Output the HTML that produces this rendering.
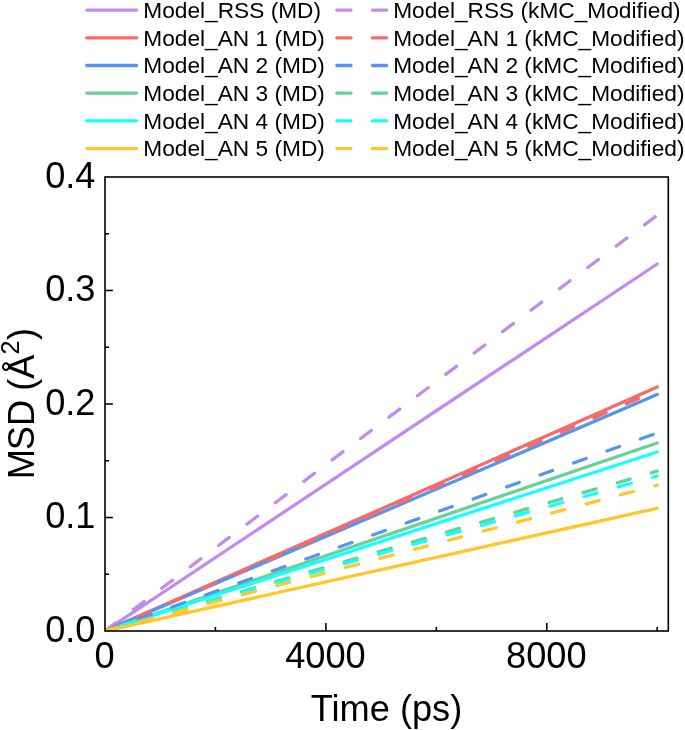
<!DOCTYPE html>
<html><head><meta charset="utf-8"><title>MSD</title>
<style>
html,body{margin:0;padding:0;background:#fff;}
body{width:685px;height:730px;overflow:hidden;}
svg{display:block;will-change:transform;}
text{font-family:"Liberation Sans",sans-serif;fill:#000;}
</style></head><body>
<svg width="685" height="730" viewBox="0 0 685 730">
<rect x="0" y="0" width="685" height="730" fill="#fff"/>

<clipPath id="pc"><rect x="105.0" y="177.0" width="563.3" height="454.0"/></clipPath>
<g clip-path="url(#pc)" fill="none" stroke-linecap="round" stroke-width="3.3">
<line x1="105.0" y1="631.0" x2="657.2" y2="264.0" stroke="#C28DE8"/>
<line x1="105.0" y1="631.0" x2="657.2" y2="387.0" stroke="#F56A6A"/>
<line x1="105.0" y1="631.0" x2="657.2" y2="394.5" stroke="#5595EE"/>
<line x1="105.0" y1="631.0" x2="657.2" y2="443.0" stroke="#66D298"/>
<line x1="105.0" y1="631.0" x2="657.2" y2="452.0" stroke="#14FFFF"/>
<line x1="105.0" y1="631.0" x2="657.2" y2="508.3" stroke="#FFC72C"/>
<line x1="105.0" y1="631.0" x2="657.2" y2="215.2" stroke="#C28DE8" stroke-dasharray="13.4 22.15"/>
<line x1="105.0" y1="631.0" x2="657.2" y2="390.3" stroke="#F56A6A" stroke-dasharray="13.4 22.15"/>
<line x1="105.0" y1="631.0" x2="657.2" y2="433.0" stroke="#5595EE" stroke-dasharray="13.4 22.15"/>
<line x1="105.0" y1="631.0" x2="657.2" y2="471.2" stroke="#66D298" stroke-dasharray="13.4 22.15"/>
<line x1="105.0" y1="631.0" x2="657.2" y2="476.0" stroke="#14FFFF" stroke-dasharray="13.4 22.15"/>
<line x1="105.0" y1="631.0" x2="657.2" y2="485.2" stroke="#FFC72C" stroke-dasharray="13.4 22.15"/>
</g>
<rect x="105.0" y="177.0" width="563.3" height="454.0" fill="none" stroke="#000" stroke-width="1.6"/>
<g stroke="#000" stroke-width="1.55">
<line x1="105.0" y1="517.5" x2="112.9" y2="517.5"/>
<line x1="105.0" y1="404.0" x2="112.9" y2="404.0"/>
<line x1="105.0" y1="290.5" x2="112.9" y2="290.5"/>
<line x1="105.0" y1="574.2" x2="109.0" y2="574.2"/>
<line x1="105.0" y1="460.8" x2="109.0" y2="460.8"/>
<line x1="105.0" y1="347.2" x2="109.0" y2="347.2"/>
<line x1="105.0" y1="233.8" x2="109.0" y2="233.8"/>
<line x1="325.9" y1="631.0" x2="325.9" y2="623.1"/>
<line x1="546.8" y1="631.0" x2="546.8" y2="623.1"/>
<line x1="215.4" y1="631.0" x2="215.4" y2="627.0"/>
<line x1="436.3" y1="631.0" x2="436.3" y2="627.0"/>
<line x1="657.2" y1="631.0" x2="657.2" y2="627.0"/>
</g>
<g font-size="36.2">
<text x="95.5" y="641.8" text-anchor="end">0.0</text>
<text x="95.5" y="528.3" text-anchor="end">0.1</text>
<text x="95.5" y="414.8" text-anchor="end">0.2</text>
<text x="95.5" y="301.3" text-anchor="end">0.3</text>
<text x="95.5" y="187.8" text-anchor="end">0.4</text>
<text x="104.5" y="668" text-anchor="middle">0</text>
<text x="325.4" y="668" text-anchor="middle">4000</text>
<text x="546.3" y="668" text-anchor="middle">8000</text>
<text x="386.5" y="720.5" text-anchor="middle">Time (ps)</text>
<text transform="translate(34,479.2) rotate(-90)">M<tspan dx="-1.1">S</tspan>D <tspan dx="-1.0">(</tspan><tspan dx="0.1">Å</tspan><tspan font-size="25.2" dy="-15">2</tspan><tspan dy="15" dx="0.5">)</tspan></text>
</g>
<g fill="none" stroke-linecap="round" stroke-width="3.3">
<line x1="86.8" y1="10.1" x2="136.6" y2="10.1" stroke="#C28DE8"/>
<line x1="336.8" y1="10.1" x2="386.6" y2="10.1" stroke="#C28DE8" stroke-dasharray="14.2 21.4"/>
<line x1="86.8" y1="37.8" x2="136.6" y2="37.8" stroke="#F56A6A"/>
<line x1="336.8" y1="37.8" x2="386.6" y2="37.8" stroke="#F56A6A" stroke-dasharray="14.2 21.4"/>
<line x1="86.8" y1="65.5" x2="136.6" y2="65.5" stroke="#5595EE"/>
<line x1="336.8" y1="65.5" x2="386.6" y2="65.5" stroke="#5595EE" stroke-dasharray="14.2 21.4"/>
<line x1="86.8" y1="93.1" x2="136.6" y2="93.1" stroke="#66D298"/>
<line x1="336.8" y1="93.1" x2="386.6" y2="93.1" stroke="#66D298" stroke-dasharray="14.2 21.4"/>
<line x1="86.8" y1="120.8" x2="136.6" y2="120.8" stroke="#14FFFF"/>
<line x1="336.8" y1="120.8" x2="386.6" y2="120.8" stroke="#14FFFF" stroke-dasharray="14.2 21.4"/>
<line x1="86.8" y1="148.6" x2="136.6" y2="148.6" stroke="#FFC72C"/>
<line x1="336.8" y1="148.6" x2="386.6" y2="148.6" stroke="#FFC72C" stroke-dasharray="14.2 21.4"/>
</g>
<g font-size="22.7">
<text x="143.3" y="17.8">Model_RSS (MD)</text>
<text x="393.2" y="17.8">Model_RSS (kMC_Modified)</text>
<text x="143.3" y="45.5">Model_AN 1 (MD)</text>
<text x="393.2" y="45.5">Model_AN 1 (kMC_Modified)</text>
<text x="143.3" y="73.2">Model_AN 2 (MD)</text>
<text x="393.2" y="73.2">Model_AN 2 (kMC_Modified)</text>
<text x="143.3" y="100.8">Model_AN 3 (MD)</text>
<text x="393.2" y="100.8">Model_AN 3 (kMC_Modified)</text>
<text x="143.3" y="128.5">Model_AN 4 (MD)</text>
<text x="393.2" y="128.5">Model_AN 4 (kMC_Modified)</text>
<text x="143.3" y="156.2">Model_AN 5 (MD)</text>
<text x="393.2" y="156.2">Model_AN 5 (kMC_Modified)</text>
</g>
</svg></body></html>
